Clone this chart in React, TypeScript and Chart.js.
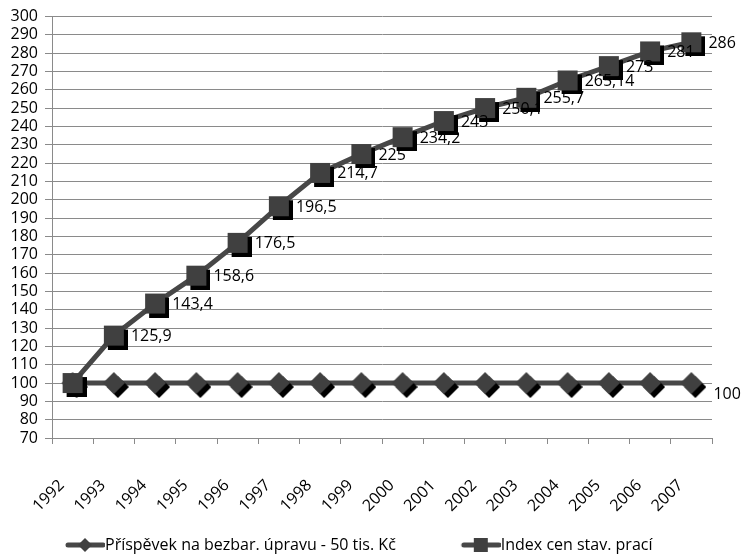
import React, { useEffect, useRef } from "react";
import { Chart, registerables } from "chart.js";

Chart.register(...registerables);

// Years on the category axis
const years = [
  "1992", "1993", "1994", "1995", "1996", "1997", "1998", "1999",
  "2000", "2001", "2002", "2003", "2004", "2005", "2006", "2007",
];

// Contribution for barrier-free adaptation (index, constant)
const contribution = [100, 100, 100, 100, 100, 100, 100, 100, 100, 100, 100, 100, 100, 100, 100, 100];

// Construction price index
const priceIndex = [100, 125.9, 143.4, 158.6, 176.5, 196.5, 214.7, 225, 234.2, 243, 250.1, 255.7, 265.14, 273, 281, 286];

const seriesNames = ["Příspěvek na bezbar. úpravu - 50 tis. Kč", "Index cen stav. prací"];

// Value axis ticks
const yTicks = [70, 80, 90, 100, 110, 120, 130, 140, 150, 160, 170, 180, 190, 200, 210, 220, 230, 240, 250, 260, 270, 280, 290, 300];

const FONT = '"Open Sans", "Noto Sans", sans-serif';
const FONT_SIZE = 16;
const MARK = "#404040";
const LINE = "#474747";
const GRID = "#8a8a8a";

// Legend geometry: box width handed to Chart.js and visible symbol width
const LEGEND_BOX = 87;
const LEGEND_SYMBOL = 40;

type Shape = "square" | "diamond";

function traceShape(ctx: CanvasRenderingContext2D, shape: Shape, cx: number, cy: number, r: number) {
  ctx.beginPath();
  if (shape === "square") {
    ctx.rect(cx - r, cy - r, 2 * r, 2 * r);
  } else {
    ctx.moveTo(cx, cy - r);
    ctx.lineTo(cx + r, cy);
    ctx.lineTo(cx, cy + r);
    ctx.lineTo(cx - r, cy);
    ctx.closePath();
  }
}

// Marker with a black drop shadow towards the bottom right
function makeMarker(shape: Shape, r: number, off: number) {
  const c = document.createElement("canvas");
  const size = 2 * r + 2 * off;
  c.width = size;
  c.height = size;
  const ctx = c.getContext("2d")!;
  traceShape(ctx, shape, off + r + off, off + r + off, r);
  ctx.fillStyle = "#000";
  ctx.fill();
  traceShape(ctx, shape, off + r, off + r, r);
  ctx.fillStyle = MARK;
  ctx.fill();
  return c;
}

// Legend symbol: a short line with the marker in its middle, placed at the
// right end of the image so it sits right against the legend text
function makeLegendSymbol(shape: Shape, r: number) {
  const c = document.createElement("canvas");
  c.width = LEGEND_BOX + FONT_SIZE;
  c.height = 20;
  const x0 = c.width - LEGEND_SYMBOL;
  const ctx = c.getContext("2d")!;
  ctx.strokeStyle = LINE;
  ctx.lineWidth = 5;
  ctx.lineCap = "round";
  ctx.beginPath();
  ctx.moveTo(x0 + 3, 10);
  ctx.lineTo(x0 + LEGEND_SYMBOL - 2, 10);
  ctx.stroke();
  traceShape(ctx, shape, x0 + LEGEND_SYMBOL / 2, 10, r);
  ctx.fillStyle = MARK;
  ctx.fill();
  return c;
}

const fmt = (v: number) => String(v).replace(".", ",");

const valueLabels = {
  id: "valueLabels",
  afterDatasetsDraw(chart: any) {
    const ctx = chart.ctx as CanvasRenderingContext2D;
    ctx.save();
    ctx.font = `${FONT_SIZE}px ${FONT}`;
    ctx.fillStyle = "#000";
    ctx.textBaseline = "middle";
    ctx.textAlign = "left";
    const idxMeta = chart.getDatasetMeta(1);
    idxMeta.data.forEach((pt: any, i: number) => {
      if (i === 0) return;
      ctx.fillText(fmt(priceIndex[i]), pt.x + 17, pt.y + 1);
    });
    const cMeta = chart.getDatasetMeta(0);
    const n = cMeta.data.length - 1;
    const last = cMeta.data[n];
    ctx.fillText(fmt(contribution[n]), last.x + 22, last.y + 11);
    ctx.restore();
  },
};

export default function App() {
  const ref = useRef<HTMLCanvasElement | null>(null);

  useEffect(() => {
    if (!ref.current) return;
    const diamond = makeMarker("diamond", 11, 4);
    const square = makeMarker("square", 10, 4);
    const legendSymbols = [makeLegendSymbol("diamond", 7), makeLegendSymbol("square", 7)];

    const chart = new Chart(ref.current, {
      type: "line",
      data: {
        labels: years,
        datasets: [
          {
            label: seriesNames[0],
            data: contribution,
            borderColor: LINE,
            backgroundColor: MARK,
            borderWidth: 5,
            pointStyle: diamond as any,
            order: 1,
          },
          {
            label: seriesNames[1],
            data: priceIndex,
            borderColor: LINE,
            backgroundColor: MARK,
            borderWidth: 5,
            pointStyle: square as any,
            order: 0,
          },
        ],
      },
      options: {
        animation: false,
        responsive: true,
        maintainAspectRatio: false,
        layout: { padding: { left: 0, top: 15, right: 32, bottom: -7 } },
        elements: { line: { tension: 0 } },
        plugins: {
          tooltip: { enabled: false },
          legend: {
            position: "bottom",
            align: "start",
            labels: {
              usePointStyle: true,
              pointStyleWidth: LEGEND_BOX,
              padding: 10,
              color: "#000",
              font: { family: FONT, size: FONT_SIZE },
              sort: (a: any, b: any) => a.datasetIndex - b.datasetIndex,
              generateLabels: (chart: any) => {
                const items = Chart.defaults.plugins.legend.labels.generateLabels(chart);
                return items.map((it: any) => ({
                  ...it,
                  pointStyle: legendSymbols[it.datasetIndex],
                }));
              },
            },
          },
        },
        scales: {
          x: {
            type: "category",
            offset: true,
            afterFit: (s: any) => {
              s.height = 89;
            },
            grid: {
              offset: true,
              drawOnChartArea: false,
              drawTicks: true,
              tickLength: 6,
              color: GRID,
            },
            border: { color: GRID, width: 1 },
            ticks: {
              autoSkip: false,
              minRotation: 45,
              maxRotation: 45,
              padding: 32,
              labelOffset: -11,
              color: "#000",
              font: { family: FONT, size: FONT_SIZE },
            },
          },
          y: {
            min: yTicks[0],
            max: yTicks[yTicks.length - 1],
            afterFit: (s: any) => {
              s.width = 52;
            },
            afterBuildTicks: (s: any) => {
              s.ticks = yTicks.map((v) => ({ value: v }));
            },
            grid: { color: GRID, tickLength: 7 },
            border: { color: GRID, width: 1 },
            ticks: {
              autoSkip: false,
              padding: 7,
              color: "#000",
              font: { family: FONT, size: FONT_SIZE },
            },
          },
        },
      },
      plugins: [valueLabels],
    });

    return () => chart.destroy();
  }, []);

  return (
    <div style={{ position: "fixed", left: 0, top: 0, width: 744, height: 556, background: "#fff" }}>
      <canvas ref={ref} />
    </div>
  );
}
